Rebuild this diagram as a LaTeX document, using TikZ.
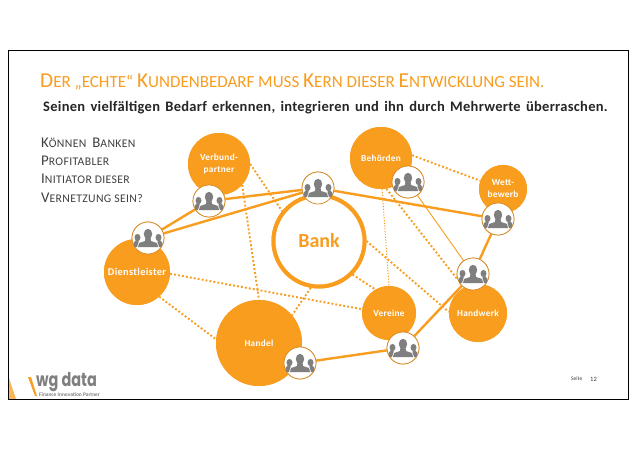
\documentclass[tikz,border=0pt]{standalone}
\usepackage{fontspec}
\setmainfont{Carlito}
\newfontfamily\logofont{Poppins}
\definecolor{wgorange}{HTML}{F99D1F}
\definecolor{wggray}{HTML}{7F7F7F}
\definecolor{wgtext}{HTML}{404040}
\newcommand{\tbig}{\fontsize{21.3}{22}\selectfont}
\newcommand{\tsm}{\fontsize{17}{22}\selectfont}
\newcommand{\qbig}{\fontsize{14.8}{16}\selectfont}
\newcommand{\qsm}{\fontsize{11.7}{16}\selectfont\addfontfeature{LetterSpace=3}}
\tikzset{
  hub/.style={circle,fill=wgorange,inner sep=0pt,minimum size=#1,text=white,font=\fontsize{9.3}{12}\selectfont\bfseries\addfontfeature{LetterSpace=3},align=center},
  persona/.style={circle,draw=wgorange!85!black,line width=0.7pt,fill=white,inner sep=0pt,minimum size=32pt},
  solidlink/.style={draw=wgorange,line width=2.4pt},
  thinlink/.style={draw=wgorange,line width=0.9pt},
  dotlink/.style={draw=wgorange,line width=1.9pt,dash pattern=on 1.9pt off 2.1pt},
  fineDot/.style={draw=wgorange,line width=1pt,dash pattern=on 1.2pt off 1.6pt},
  people/.pic={
    \fill[wggray] (0,-4) ellipse (4.2 and 5.2);
    \fill[wggray] (-2.6,0) -- (2.6,0) -- (3,3) -- (9,5) -- (10,9) -- (-10,9) -- (-9,5) -- (-3,3) -- cycle;
    \fill[wggray] (-10.5,-0.5) ellipse (3 and 3.6);
    \fill[wggray] (10.5,-0.5) ellipse (3 and 3.6);
    \fill[wggray] (-12,2) -- (-9.5,2) -- (-9.5,4) -- (-11,9) -- (-13.5,9) -- (-14.5,5) -- cycle;
    \fill[wggray] (12,2) -- (9.5,2) -- (9.5,4) -- (11,9) -- (13.5,9) -- (14.5,5) -- cycle;
  }
}
\begin{document}
\begin{tikzpicture}[x=1pt,y=-1pt]
\useasboundingbox (0,0) rectangle (638,452);
\fill[white] (0,0) rectangle (638,452);
% corner mark
\fill[wgorange!75] (8,375) -- (16,399) -- (8,399) -- cycle;
% hubs
\node[hub=62pt] (verbund) at (219,164) {};
\node[hub=62pt] (behoerden) at (381,158) {};
\node[hub=48pt] (wett) at (503,189) {};
\node[hub=66pt] (dienst) at (137,272) {};
\node[hub=86pt] (handel) at (259,343) {};
\node[hub=54pt] (vereine) at (389,313) {};
\node[hub=58pt] (handwerk) at (478,313) {};
\node[circle,draw=wgorange,line width=4pt,fill=white,minimum size=91pt,inner sep=0pt] (bank) at (319,241) {};
% persona nodes (placed first so links can refer to them)
\node[persona] (pverbund) at (209,201) {};
\node[persona] (pbank) at (318,188) {};
\node[persona] (pbehoerden) at (408,182) {};
\node[persona] (pwett) at (498,219) {};
\node[persona] (pdienst) at (148,238) {};
\node[persona] (phandwerk) at (473,274) {};
\node[persona] (phandel) at (300,363) {};
\node[persona] (pvereine) at (403,348) {};
% links
\draw[dotlink] (verbund.-42) -- (handel.90);
\draw[dotlink] (verbund.0) -- (bank.141);
\draw[dotlink] (dienst.-48) -- (handel.175);
\draw[dotlink] (dienst.-3) -- (vereine.172);
\draw[dotlink] (bank.-100) -- (handel.40);
\draw[dotlink] (bank.-45) -- (vereine.120);
\draw[dotlink] (bank.0) -- (handwerk.178);
\draw[dotlink] (behoerden.-80) -- (phandwerk.-160);
\draw[dotlink] (behoerden.5) -- (wett.160);
\draw[fineDot] (behoerden.-88) -- (vereine.90);
\draw[solidlink] (pverbund) -- (pbank);
\draw[solidlink] (pverbund) -- (pdienst);
\draw[solidlink] (pdienst) -- (pbank);
\draw[solidlink] (pbank) -- (pwett);
\draw[solidlink] (pwett) -- (phandwerk);
\draw[solidlink] (phandwerk) -- (pvereine);
\draw[solidlink] (pvereine) -- (phandel);
\draw[thinlink] (pbehoerden) -- (phandwerk);
% redraw hubs and rings above links
\node[hub=62pt] at (verbund) {Verbund-\\partner};
\node[hub=62pt] at (behoerden) {Behörden};
\node[hub=48pt] at (wett) {Wett-\\bewerb};
\node[hub=66pt,font=\fontsize{10.4}{12}\selectfont\bfseries\addfontfeature{LetterSpace=3}] at (dienst) {Dienstleister};
\node[hub=86pt] at (handel) {Handel};
\node[hub=54pt] at (vereine) {Vereine};
\node[hub=58pt] at (handwerk) {Handwerk};
\node[circle,draw=wgorange,line width=4pt,fill=white,minimum size=91pt,inner sep=0pt,text=wgorange,font=\fontsize{20}{20}\selectfont\bfseries] at (bank) {Bank};
\foreach \p in {pverbund,pbank,pbehoerden,pwett,pdienst,phandwerk,phandel,pvereine}{
  \node[persona] at (\p) {};
  \pic at (\p) {people};
}
% frame
\node[draw=black,line width=1pt,minimum width=620pt,minimum height=348pt,inner sep=0pt] (frame) at (318,225) {};
% text
\node[anchor=base west,inner sep=0pt,text=wgorange] (title) at (40,88) {\tbig D\tsm ER „ECHTE“ \tbig K\tsm UNDENBEDARF MUSS \tbig K\tsm ERN DIESER \tbig E\tsm NTWICKLUNG SEIN.};
\node[anchor=base west,inner sep=0pt,text=black!85,font=\fontsize{14.5}{14.5}\selectfont\bfseries] (subtitle) at (43,111) {\addfontfeature{LetterSpace=2}\spaceskip=5.3pt\relax Seinen vielfältigen Bedarf erkennen, integrieren und ihn durch Mehrwerte überraschen.};
\node[anchor=base west,inner sep=0pt,text=wgtext] (q1) at (41,147) {\qbig K\qsm ÖNNEN\ \ \qbig B\qsm ANKEN};
\node[anchor=base west,inner sep=0pt,text=wgtext] (q2) at (41,165) {\qbig P\qsm ROFITABLER};
\node[anchor=base west,inner sep=0pt,text=wgtext] (q3) at (41,183) {\qbig I\qsm NITIATOR DIESER};
\node[anchor=base west,inner sep=0pt,text=wgtext] (q4) at (41,202) {\qbig V\qsm ERNETZUNG SEIN?};
% logo
\fill[wgorange] (28,377) -- (31,377) -- (37,396) -- (35,396) -- cycle;
\node[anchor=base west,inner sep=0pt,text=wggray,font=\logofont\bfseries\fontsize{19}{19}\selectfont] (logo) at (36,386) {\scalebox{.76}[1]{wg data}};
\node[anchor=west,inner sep=0pt,text=wggray,font=\fontsize{5.4}{6}\selectfont\bfseries] (tag) at (39,394.5) {Finance Innovation Partner};
\node[anchor=west,inner sep=0pt,text=wgtext,font=\fontsize{5.5}{6}\selectfont] (seite) at (571,379) {Seite};
\node[anchor=west,inner sep=0pt,text=wgtext,font=\fontsize{6.5}{6}\selectfont] (num) at (590,379) {12};
\end{tikzpicture}
\end{document}
